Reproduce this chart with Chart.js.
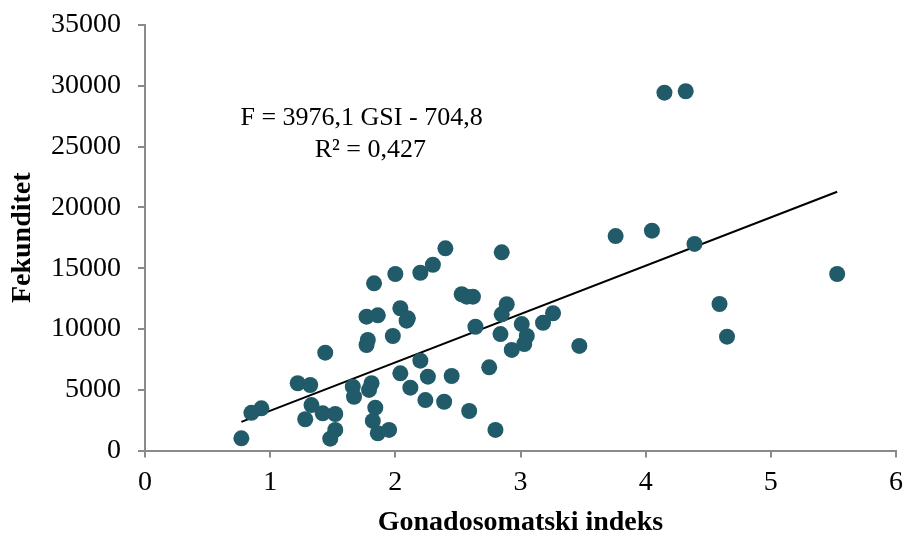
<!DOCTYPE html>
<html>
<head>
<meta charset="utf-8">
<script src="https://cdn.jsdelivr.net/npm/chart.js@4/dist/chart.umd.min.js"></script>
<style>
  body { margin: 0; background: #fff; }
  canvas { display: block; }
</style>
</head>
<body>
<canvas id="chart" width="906" height="540"></canvas>
<script>
// GSI values (x) and fecundity (y)
const gsi = [
  0.77, 0.85, 0.93, 1.22, 1.32, 1.44, 1.33, 1.28, 1.42, 1.52, 1.52, 1.48,
  1.66, 1.67, 1.77, 1.78, 1.81, 1.79, 1.84, 1.82, 1.86, 1.95, 2.04, 2.12,
  2.20, 2.26, 2.24, 2.39, 2.45, 2.59, 2.40, 2.30, 2.20, 2.00, 1.83, 2.53,
  2.57, 2.62, 2.04, 1.77, 1.86, 2.09, 2.10, 1.98, 2.64, 2.85, 2.89, 2.85,
  3.26, 3.18, 3.01, 3.05, 2.84, 3.47, 2.93, 3.03, 2.75, 2.80, 3.76, 4.05,
  4.39, 4.59, 4.65, 5.53, 4.15, 4.32
];
const fekunditet = [
  1000, 3100, 3470, 5530, 5390, 8050, 3740, 2570, 3060, 3000, 1690, 970,
  5250, 4420, 8680, 9090, 5530, 4980, 3520, 2430, 1420, 1690, 6350, 5170,
  7390, 6070, 4150, 4010, 6130, 3250, 16630, 15280, 14620, 14520, 13750, 12850,
  12650, 12650, 11700, 11010, 11120, 10680, 10870, 9420, 10180, 16300, 12030, 11200,
  11290, 10510, 10400, 9420, 9580, 8600, 8270, 8760, 6840, 1690, 17640, 18080,
  16990, 12050, 9360, 14520, 29430, 29550
];

// trendline from the equation on the chart
const slope = 3976.1;
const intercept = -704.8;
const eqLines = ['F = 3976,1 GSI - 704,8', 'R² = 0,427'];

const xMin = Math.min(...gsi);
const xMax = Math.max(...gsi);
const trend = [
  { x: xMin, y: slope * xMin + intercept },
  { x: xMax, y: slope * xMax + intercept }
];

const points = gsi.map((g, i) => ({ x: g, y: fekunditet[i] }));

const axisGray = '#8a8a8a';
const serif = '"Liberation Serif", "Times New Roman", serif';

const equationText = {
  id: 'equationText',
  afterDatasetsDraw(chart) {
    const ctx = chart.ctx;
    const xs = chart.scales.x, ys = chart.scales.y;
    ctx.save();
    ctx.fillStyle = '#000';
    ctx.font = '26px ' + serif;
    ctx.textAlign = 'center';
    ctx.textBaseline = 'middle';
    ctx.fillText(eqLines[0], xs.getPixelForValue(1.73), ys.getPixelForValue(27350));
    ctx.fillText(eqLines[1], xs.getPixelForValue(1.80), ys.getPixelForValue(24700));
    ctx.restore();
  }
};

new Chart(document.getElementById('chart'), {
  type: 'scatter',
  data: {
    datasets: [
      {
        data: points,
        backgroundColor: '#215a68',
        borderColor: '#215a68',
        pointRadius: 8,
        pointHoverRadius: 8,
        borderWidth: 0
      },
      {
        type: 'line',
        data: trend,
        borderColor: '#000',
        borderWidth: 2,
        pointRadius: 0,
        fill: false
      }
    ]
  },
  options: {
    responsive: false,
    animation: false,
    layout: { padding: { top: 25, right: 10, left: 6, bottom: 0 } },
    plugins: { legend: { display: false }, tooltip: { enabled: false } },
    scales: {
      x: {
        type: 'linear',
        min: 0, max: 6,
        afterFit(scale) {
          scale.height = 89.5;
          scale.paddingLeft = 0;
          scale.paddingRight = 0;
        },
        ticks: { stepSize: 1, color: '#000', font: { family: serif, size: 28 }, padding: 8 },
        grid: { drawOnChartArea: false, drawTicks: true, tickLength: 7, color: axisGray, lineWidth: 2 },
        border: { color: axisGray, width: 2 },
        title: { display: true, text: 'Gonadosomatski indeks', color: '#000',
                 font: { family: serif, size: 28, weight: 'bold' }, padding: 0 }
      },
      y: {
        min: 0, max: 35000,
        afterFit(scale) {
          scale.width = 139;
          scale.paddingTop = 0;
          scale.paddingBottom = 0;
        },
        ticks: { stepSize: 5000, color: '#000', font: { family: serif, size: 28 }, padding: 17,
                 callback: v => String(v) },
        grid: { drawOnChartArea: false, drawTicks: true, tickLength: 7, color: axisGray, lineWidth: 2 },
        border: { color: axisGray, width: 2 },
        title: { display: true, text: 'Fekunditet', color: '#000',
                 font: { family: serif, size: 28, weight: 'bold' }, padding: 0 }
      }
    }
  },
  plugins: [equationText]
});
</script>
</body>
</html>
